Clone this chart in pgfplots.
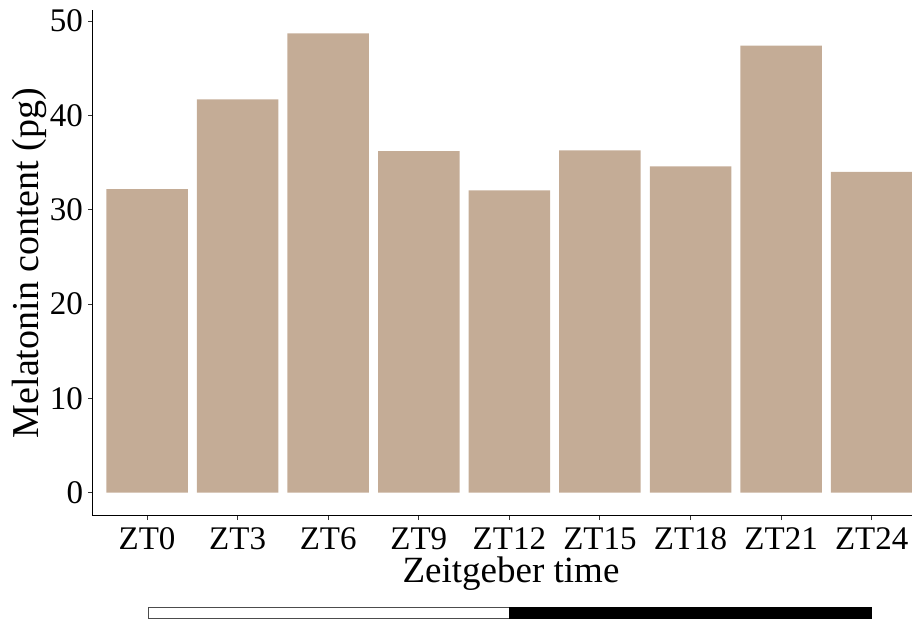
\documentclass[border=0pt]{standalone}
\usepackage{pgfplots}
\pgfplotsset{compat=1.18}
\usepackage{fontspec}
\setmainfont{Liberation Serif}
\definecolor{barc}{RGB}{196,172,150}
\begin{document}
\begin{tikzpicture}[x=1pt,y=1pt]
\useasboundingbox (0,0) rectangle (912,620);
\begin{axis}[
  at={(92.7pt,104.3pt)}, anchor=south west,
  scale only axis, width=819.3pt, height=505.4pt,
  xmin=-0.6, xmax=8.445, ymin=-2.435, ymax=51.14,
  axis lines*=left,
  axis line style={line width=1.1pt, black},
  xtick={0,1,2,3,4,5,6,7,8},
  xticklabels={ZT0,ZT3,ZT6,ZT9,ZT12,ZT15,ZT18,ZT21,ZT24},
  ytick={0,10,20,30,40,50},
  tick align=outside, major tick length=4.5pt,
  tick style={black!80, line width=1pt},
  /pgf/number format/assume math mode=true,
  xticklabel style={font=\fontsize{33}{33}\selectfont, anchor=north, inner sep=0pt, yshift=-7pt},
  yticklabel style={font=\fontsize{33}{33}\selectfont, anchor=east, inner sep=0pt, xshift=-5pt},
  clip=false,
]
\addplot[ybar, bar width=0.9, fill=barc, draw=none] coordinates {
  (0,32.17) (1,41.7) (2,48.7) (3,36.2) (4,32.05) (5,36.3) (6,34.6) (7,47.4) (8,34.0)
};
\end{axis}
\node[font=\fontsize{37}{37}\selectfont, anchor=base, inner sep=0pt] at (511,37) {Zeitgeber time};
\node[font=\fontsize{38}{38}\selectfont, rotate=90, anchor=base, inner sep=0pt] at (38,357) {Melatonin content (pg)};
\draw[fill=white, draw=black!70, line width=1pt] (148.2,1.5) rectangle (509.3,12.7);
\fill[black] (509.3,1) rectangle (871.7,12.7);
\end{tikzpicture}
\end{document}
